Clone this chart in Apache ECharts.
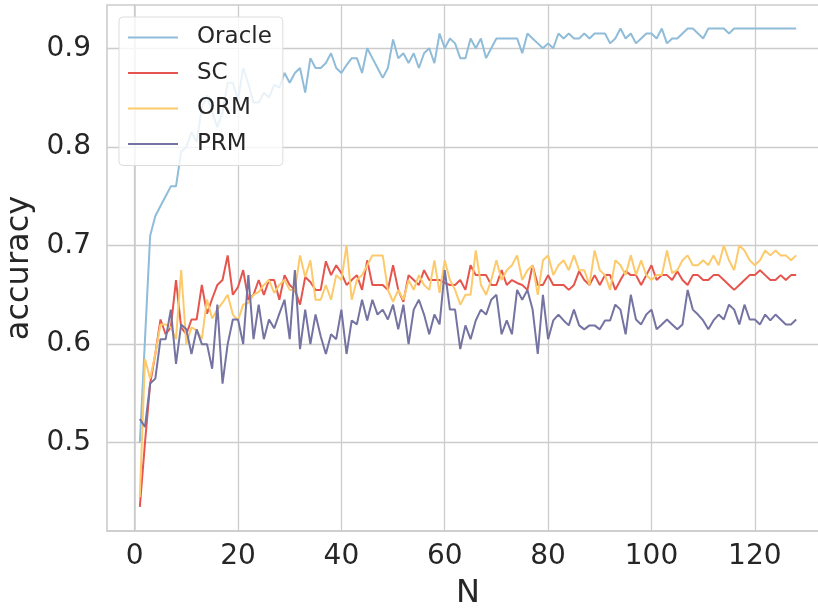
<!DOCTYPE html>
<html>
<head>
<meta charset="utf-8">
<script src="https://cdn.jsdelivr.net/npm/echarts@6/dist/echarts.min.js"></script>
<style>html,body{margin:0;padding:0;background:#fff;}#c{width:818px;height:611px;}</style>
</head>
<body>
<div id="c"></div>
<script>
const seriesNames = ['Oracle', 'SC', 'ORM', 'PRM'];
const xTicks = [0, 20, 40, 60, 80, 100, 120];
const yTicks = [0.5, 0.6, 0.7, 0.8, 0.9];

const oracle = [0.50,0.605,0.71,0.73,0.74,0.75,0.76,0.76,0.795,0.80,
0.815,0.805,0.84,0.852,0.835,0.82,0.835,0.865,0.865,0.848,
0.88,0.864,0.845,0.845,0.855,0.85,0.863,0.86,0.875,0.865,
0.875,0.88,0.855,0.89,0.88,0.88,0.885,0.895,0.88,0.875,
0.883,0.89,0.89,0.875,0.90,0.89,0.88,0.87,0.88,0.909,
0.89,0.895,0.885,0.895,0.88,0.895,0.90,0.885,0.915,0.90,
0.91,0.905,0.89,0.89,0.91,0.90,0.91,0.89,0.90,0.91,
0.91,0.91,0.91,0.91,0.895,0.915,0.91,0.905,0.90,0.905,
0.90,0.915,0.91,0.915,0.91,0.91,0.915,0.91,0.915,0.915,
0.915,0.905,0.91,0.92,0.91,0.915,0.905,0.91,0.915,0.915,
0.91,0.92,0.905,0.91,0.91,0.915,0.92,0.92,0.915,0.91,
0.92,0.92,0.92,0.92,0.915,0.92,0.92,0.92,0.92,0.92,
0.92,0.92,0.92,0.92,0.92,0.92,0.92,0.92];

const sc = [0.435,0.50,0.56,0.59,0.625,0.61,0.617,0.665,0.617,0.61,
0.625,0.625,0.66,0.631,0.646,0.66,0.665,0.69,0.65,0.658,
0.675,0.645,0.65,0.665,0.65,0.665,0.665,0.645,0.67,0.66,
0.655,0.64,0.668,0.663,0.655,0.655,0.684,0.67,0.68,0.672,
0.66,0.665,0.67,0.655,0.685,0.66,0.66,0.66,0.655,0.68,
0.655,0.643,0.67,0.665,0.66,0.675,0.665,0.665,0.665,0.662,
0.66,0.66,0.665,0.655,0.68,0.67,0.67,0.67,0.66,0.66,
0.675,0.66,0.665,0.662,0.66,0.655,0.68,0.66,0.66,0.67,
0.66,0.66,0.66,0.655,0.66,0.674,0.665,0.66,0.67,0.66,
0.67,0.67,0.655,0.665,0.674,0.67,0.67,0.66,0.67,0.68,
0.665,0.67,0.67,0.665,0.674,0.665,0.66,0.67,0.67,0.665,
0.665,0.67,0.67,0.665,0.66,0.655,0.66,0.665,0.67,0.67,
0.675,0.67,0.665,0.665,0.67,0.665,0.67,0.67];

const orm = [0.445,0.585,0.565,0.59,0.62,0.62,0.617,0.605,0.675,0.60,
0.617,0.614,0.605,0.645,0.626,0.635,0.642,0.65,0.63,0.624,
0.64,0.642,0.65,0.653,0.66,0.665,0.652,0.66,0.665,0.655,
0.655,0.69,0.668,0.685,0.645,0.645,0.66,0.645,0.67,0.665,
0.70,0.645,0.665,0.67,0.68,0.69,0.69,0.69,0.655,0.643,
0.655,0.645,0.665,0.655,0.67,0.66,0.655,0.685,0.652,0.685,
0.665,0.655,0.64,0.65,0.65,0.695,0.66,0.65,0.665,0.685,
0.665,0.675,0.68,0.69,0.665,0.675,0.68,0.65,0.685,0.69,
0.67,0.68,0.685,0.675,0.69,0.675,0.675,0.66,0.695,0.675,
0.67,0.655,0.685,0.68,0.67,0.69,0.67,0.685,0.67,0.665,
0.67,0.67,0.695,0.672,0.675,0.685,0.69,0.68,0.68,0.685,
0.68,0.69,0.68,0.70,0.685,0.675,0.70,0.695,0.685,0.68,
0.685,0.695,0.69,0.695,0.69,0.69,0.685,0.69];

const prm = [0.524,0.516,0.56,0.565,0.605,0.605,0.635,0.58,0.62,0.615,
0.59,0.615,0.60,0.60,0.575,0.64,0.56,0.60,0.625,0.625,
0.60,0.67,0.605,0.64,0.605,0.625,0.616,0.631,0.645,0.605,
0.675,0.595,0.635,0.60,0.63,0.608,0.59,0.61,0.605,0.635,
0.59,0.624,0.62,0.645,0.624,0.645,0.63,0.635,0.625,0.64,
0.615,0.64,0.60,0.635,0.645,0.63,0.61,0.63,0.62,0.675,
0.635,0.635,0.595,0.619,0.605,0.624,0.635,0.63,0.645,0.65,
0.61,0.624,0.61,0.655,0.645,0.655,0.635,0.59,0.65,0.605,
0.624,0.63,0.624,0.619,0.635,0.619,0.615,0.619,0.619,0.615,
0.624,0.624,0.64,0.635,0.61,0.65,0.625,0.62,0.63,0.635,
0.615,0.62,0.625,0.62,0.615,0.62,0.655,0.635,0.63,0.624,
0.615,0.624,0.63,0.625,0.64,0.635,0.62,0.64,0.625,0.625,
0.62,0.63,0.624,0.63,0.625,0.62,0.62,0.625];

const colors = ['#8fbcd9', '#e5554d', '#fdca6b', '#7473a1'];
const allValues = [oracle, sc, orm, prm];

const FONT = 'DejaVu Sans';
const TXT = '#262626';
const GRID = '#cccccc';

const chart = echarts.init(document.getElementById('c'), null, {renderer: 'canvas'});
chart.setOption({
  backgroundColor: '#ffffff',
  animation: false,
  color: colors,
  grid: {
    left: 107, top: 5, right: -11, bottom: 80,
    outerBoundsMode: 'none', containLabel: false,
    show: true, borderColor: GRID, borderWidth: 1.6, backgroundColor: 'transparent'
  },
  legend: {
    orient: 'vertical',
    left: 119, top: 17,
    padding: [9, 11, 10, 9],
    itemWidth: 50, itemHeight: 14, itemGap: 12.5,
    icon: 'path://M0,0 L50,0 L50,2 L0,2 Z',
    backgroundColor: 'rgba(255,255,255,0.8)',
    borderColor: '#dddddd', borderWidth: 1, borderRadius: 4,
    textStyle: {fontFamily: FONT, fontSize: 23, color: TXT, lineHeight: 23, padding: [0, 0, 0, 14]},
    data: seriesNames
  },
  xAxis: {
    type: 'value', min: -5.35, max: 134.35,
    name: 'N', nameLocation: 'middle', nameGap: 47,
    nameTextStyle: {fontFamily: FONT, fontSize: 32, color: TXT},
    axisLine: {show: true, lineStyle: {color: GRID, width: 1.6}},
    axisTick: {show: false, customValues: xTicks},
    axisLabel: {customValues: xTicks, fontFamily: FONT, fontSize: 28, color: TXT, margin: 12},
    splitLine: {show: true, lineStyle: {color: GRID, width: 1.3}}
  },
  yAxis: {
    type: 'value', min: 0.4105, max: 0.9439,
    name: 'accuracy', nameLocation: 'middle', nameGap: 66, nameRotate: 90,
    nameTextStyle: {fontFamily: FONT, fontSize: 32, color: TXT},
    axisLine: {show: true, lineStyle: {color: GRID, width: 1.6}},
    axisTick: {show: false, customValues: yTicks},
    axisLabel: {customValues: yTicks, fontFamily: FONT, fontSize: 28, color: TXT, margin: 16,
      formatter: v => v.toFixed(1)},
    splitLine: {show: true, lineStyle: {color: GRID, width: 1.3}}
  },
  series: seriesNames.map((name, k) => ({
    name: name,
    type: 'line',
    symbol: 'none',
    data: allValues[k].map((v, i) => [i + 1, v]),
    lineStyle: {width: 2, color: colors[k]},
    itemStyle: {color: colors[k]},
    emphasis: {disabled: true}
  }))
});
</script>
</body>
</html>
